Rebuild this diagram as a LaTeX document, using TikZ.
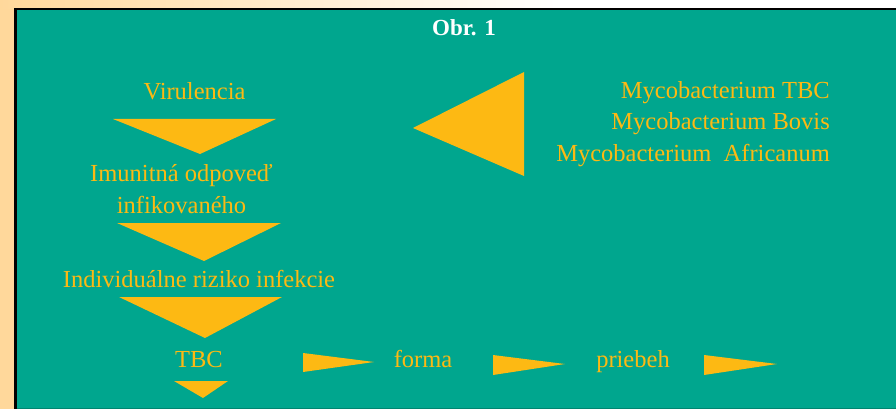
\documentclass[tikz,border=0pt]{standalone}
\usepackage{fontspec}
\setmainfont{Liberation Serif}
\definecolor{tealbg}{RGB}{0,166,142}
\definecolor{gold}{RGB}{253,185,19}
\definecolor{beige}{RGB}{255,216,155}
\begin{document}
\begin{tikzpicture}[x=1pt,y=-1pt,
  lbl/.style={text=gold, font=\fontsize{24.5}{31.5}\selectfont, inner sep=0pt, anchor=base},
  tri/.style={fill=gold}]
\useasboundingbox (0,0) rectangle (896,409);
% background
\fill[beige] (0,0) rectangle (896,409);
\shade[left color=beige, right color=white] (0,0) rectangle (560,9);
\fill[white] (559,0) rectangle (896,9);
% panel
\fill[tealbg] (15,9) rectangle (896,409);
\draw[black, line width=2.6pt] (15.3,409) -- (15.3,9.2) -- (896,9.2);
\draw[tealbg!80!black, line width=0.8pt] (16.6,408.6) -- (896,408.6);
% texts
\node[lbl, text=white, font=\fontsize{23}{28}\selectfont\bfseries] (title) at (464,36) {Obr. 1};
\node[lbl] (vir) at (194.5,100) {Virulencia};
\node[lbl, align=center] (imun) at (181.5,213) {Imunitná odpoveď\\infikovaného};
\node[lbl] (ind) at (199,287) {Individuálne riziko infekcie};
\node[lbl] (tbc) at (199,367) {TBC};
\node[lbl] (forma) at (423,367) {forma};
\node[lbl] (prie) at (633,367) {priebeh};
\node[lbl, align=right, anchor=base east] (myco) at (830,161) {Mycobacterium TBC\\Mycobacterium Bovis\\Mycobacterium\ \ Africanum};
% triangles
\fill[tri] (113,119) -- (276,119) -- (200,154) -- cycle;
\fill[tri] (117,223) -- (281,223) -- (204,261) -- cycle;
\fill[tri] (119,297) -- (282,297) -- (205,338) -- cycle;
\fill[tri] (174,381) -- (228,381) -- (203,398) -- cycle;
\fill[tri] (524,72) -- (524,176) -- (413,128) -- cycle;
\fill[tri] (303,353) -- (303,372) -- (374,362) -- cycle;
\fill[tri] (493,355) -- (493,375) -- (565,364) -- cycle;
\fill[tri] (704,355) -- (704,375) -- (777,364) -- cycle;
\end{tikzpicture}
\end{document}
